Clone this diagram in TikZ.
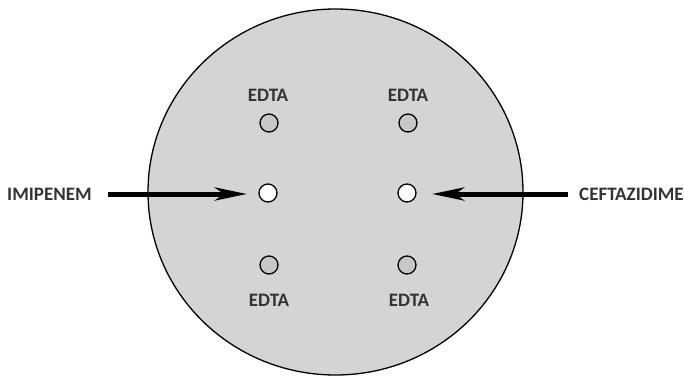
\documentclass[tikz,border=0pt]{standalone}
\usepackage{fontspec}
\setmainfont{Carlito}
\usetikzlibrary{arrows.meta,shapes.geometric}
\begin{document}
\begin{tikzpicture}[x=1pt,y=1pt,
  lbl/.style={font=\bfseries\fontsize{19}{19}\selectfont, text=black!80, inner sep=0pt},
  disk/.style={draw=black, line width=1.3pt, circle, minimum size=18pt, inner sep=0pt},
  edta/.style={disk, fill=black!22},
  drug/.style={disk, fill=white},
  arr/.style={line width=5pt, -{Stealth[length=32pt,width=13pt,inset=9pt]}}]
\useasboundingbox (0,0) rectangle (684,378);
\node[draw=black, line width=1.3pt, fill=black!17, ellipse, minimum width=375pt, minimum height=366pt, inner sep=0pt] (plate) at (335.5,186) {};
\node[drug] (imi) at (268,185) {};
\node[drug] (cef) at (407,185) {};
\node[edta] (e1) at (269,255) {};
\node[edta] (e2) at (408,255) {};
\node[edta] (e3) at (269,113) {};
\node[edta] (e4) at (407,113) {};
\node[lbl] (t1) at (268,283) {EDTA};
\node[lbl] (t2) at (408,283) {EDTA};
\node[lbl] (t3) at (269,78) {EDTA};
\node[lbl] (t4) at (409,78) {EDTA};
\node[lbl, anchor=west] (imil) at (7,184) {IMIPENEM};
\node[lbl, anchor=west] (cefl) at (579,184) {CEFTAZIDIME};
\coordinate (a1) at (108,184);
\coordinate (b1) at (247,184);
\coordinate (a2) at (568,184);
\coordinate (b2) at (432,184);
\draw[arr] (a1) -- (b1);
\draw[arr] (a2) -- (b2);
\end{tikzpicture}
\end{document}
